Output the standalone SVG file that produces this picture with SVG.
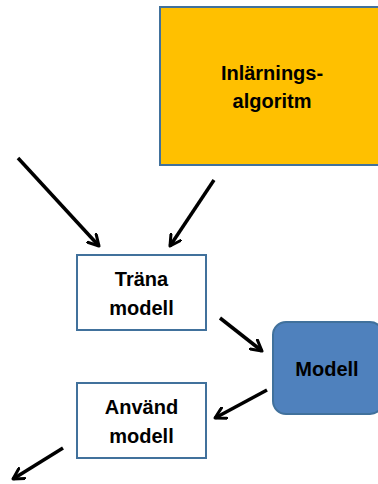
<svg xmlns="http://www.w3.org/2000/svg" width="378" height="484" viewBox="0 0 378 484">
  <style>
    .box { fill: #ffffff; stroke: #41719c; stroke-width: 2; }
    .algo { fill: #ffc000; stroke: #41719c; stroke-width: 2; }
    .model { fill: #4f81bd; stroke: #41719c; stroke-width: 2; }
    .label { font-family: "Liberation Sans", Arial, sans-serif; font-weight: bold; font-size: 20px; fill: #000000; text-anchor: middle; }
    .arrow { stroke: #000000; stroke-width: 3.5; fill: none; marker-end: url(#head); }
  </style>
  <defs>
    <marker id="head" viewBox="0 0 12 12" refX="10" refY="6" markerWidth="14" markerHeight="14" markerUnits="userSpaceOnUse" orient="auto">
      <path d="M1,1 L10,6 L1,11" fill="none" stroke="#000000" stroke-width="2.6" stroke-linecap="round" stroke-linejoin="round"/>
    </marker>
  </defs>

  <rect width="378" height="484" fill="#ffffff"/>

  <g id="inlarningsalgoritm">
    <rect class="algo" x="160" y="7" width="230" height="158"/>
    <text class="label" x="272" y="80">Inlärnings-</text>
    <text class="label" x="272" y="108">algoritm</text>
  </g>

  <g id="trana-modell">
    <rect class="box" x="77" y="255" width="129" height="75"/>
    <text class="label" x="141.5" y="286">Träna</text>
    <text class="label" x="141.5" y="315">modell</text>
  </g>

  <g id="modell">
    <rect class="model" x="273" y="322" width="110" height="92" rx="13" ry="13"/>
    <text class="label" x="327" y="376">Modell</text>
  </g>

  <g id="anvand-modell">
    <rect class="box" x="77" y="383" width="129" height="75"/>
    <text class="label" x="141.5" y="414">Använd</text>
    <text class="label" x="141.5" y="443">modell</text>
  </g>

  <g id="connectors">
    <line class="arrow" x1="18" y1="158" x2="99" y2="246"/>
    <line class="arrow" x1="214" y1="180" x2="170" y2="246"/>
    <line class="arrow" x1="220" y1="318" x2="262" y2="351"/>
    <line class="arrow" x1="267" y1="390" x2="215" y2="418"/>
    <line class="arrow" x1="63" y1="448" x2="13" y2="479"/>
  </g>
</svg>
